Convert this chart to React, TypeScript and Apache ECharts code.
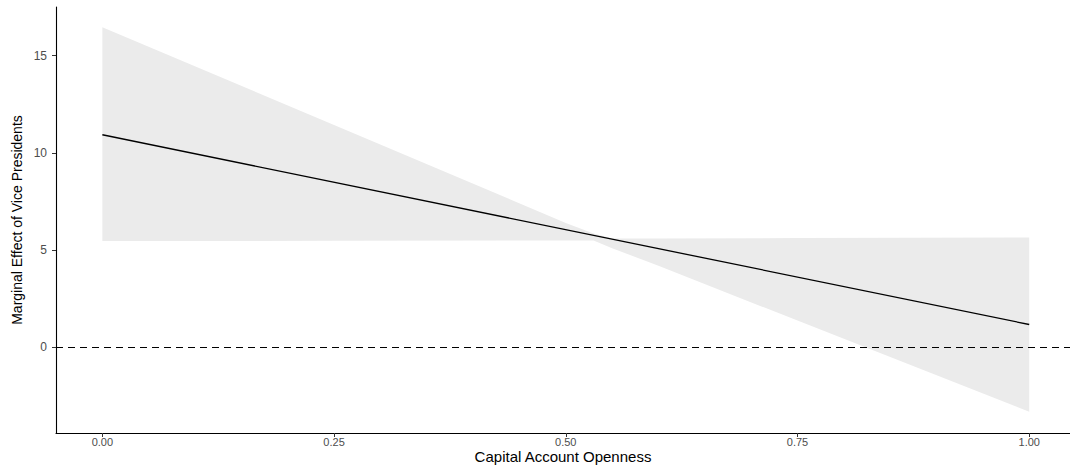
import React, { useEffect, useRef } from "react";
import * as echarts from "echarts";

const bandX = [0, 0.25, 0.5, 0.53, 0.55, 0.6, 0.75, 1];
const bandLower = [5.47, 5.48, 5.5, 5.5, 5.1, 4.2, 1.38, -3.3];
const bandUpper = [16.45, 11.43, 6.4, 5.85, 5.6, 5.6, 5.62, 5.65];
const lineX = [0, 1];
const lineY = [10.93, 1.18];
const xTicks = [0, 0.25, 0.5, 0.75, 1];
const yTicks = [0, 5, 10, 15];

export default function App() {
  const ref = useRef<HTMLDivElement>(null);
  useEffect(() => {
    document.body.style.margin = "0";
    const chart = echarts.init(ref.current!, null, { renderer: "svg" });
    const font = "Liberation Sans, Arial, sans-serif";
    const bandData = bandX.map((x, i) => [x, bandLower[i], bandUpper[i]]);
    chart.setOption({
      animation: false,
      backgroundColor: "#ffffff",
      grid: { left: 56, right: 0, top: 7, bottom: 33, containLabel: false, outerBoundsMode: "none" },
      xAxis: {
        type: "value",
        min: -0.05,
        max: 1.044,
        name: "Capital Account Openness",
        nameLocation: "middle",
        nameGap: 16,
        nameMoveOverlap: false,
        nameTextStyle: { fontFamily: font, fontSize: 15, color: "#000", letterSpacing: 0.5 },
        axisLine: { show: true, onZero: false, lineStyle: { color: "#000", width: 1.1 } },
        axisTick: { show: true, length: 4, customValues: xTicks, lineStyle: { color: "#333" } },
        axisLabel: {
          customValues: xTicks,
          formatter: (v: number) => v.toFixed(2),
          fontFamily: font,
          fontSize: 11,
          color: "#4D4D4D",
          margin: 3,
          letterSpacing: 0.8,
        },
        splitLine: { show: false },
      },
      yAxis: {
        type: "value",
        min: -4.395,
        max: 17.495,
        name: "Marginal Effect of Vice Presidents",
        nameLocation: "middle",
        nameGap: 32,
        nameMoveOverlap: false,
        nameTextStyle: { fontFamily: font, fontSize: 14, color: "#000" },
        axisLine: { show: true, onZero: false, lineStyle: { color: "#000", width: 1.1 } },
        axisTick: { show: true, length: 4, customValues: yTicks, lineStyle: { color: "#333" } },
        axisLabel: {
          customValues: yTicks,
          fontFamily: font,
          fontSize: 12,
          color: "#4D4D4D",
          margin: 9,
          letterSpacing: 0.8,
        },
        splitLine: { show: false },
      },
      series: [
        {
          type: "custom",
          data: bandData,
          encode: { x: 0, y: [1, 2] },
          silent: true,
          renderItem: (params: any, api: any) => {
            if (params.dataIndex !== 0) return null;
            const pts: number[][] = [];
            for (let i = 0; i < bandX.length; i++) pts.push(api.coord([bandX[i], bandUpper[i]]));
            for (let i = bandX.length - 1; i >= 0; i--) pts.push(api.coord([bandX[i], bandLower[i]]));
            return {
              type: "polygon",
              shape: { points: pts },
              style: { fill: "#EBEBEB", stroke: "none" },
            };
          },
        },
        {
          type: "line",
          data: lineX.map((x, i) => [x, lineY[i]]),
          symbol: "none",
          lineStyle: { color: "#000", width: 1.3 },
          markLine: {
            silent: true,
            symbol: "none",
            label: { show: false },
            lineStyle: { color: "#000", type: [7, 5], width: 1.1 },
            data: [{ yAxis: 0 }],
          },
        },
      ],
    });
    return () => chart.dispose();
  }, []);
  return (
    <div
      ref={ref}
      style={{ position: "fixed", left: 0, top: 0, width: 1070, height: 466 }}
    />
  );
}
